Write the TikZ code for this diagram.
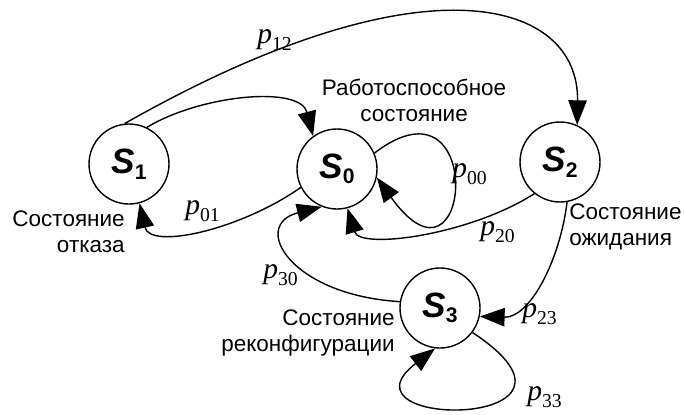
\documentclass[tikz,border=0pt]{standalone}
\usepackage{fontspec}
\setmainfont{Liberation Sans}
\newfontfamily\tnr{Liberation Serif}
\usetikzlibrary{arrows.meta,positioning}

\newcommand{\stname}[1]{{\fontsize{25}{25}\selectfont\bfseries\itshape S}\raisebox{-4pt}{\fontsize{15}{15}\selectfont\bfseries #1}}
\newcommand{\prob}[1]{{\tnr\fontsize{21}{21}\selectfont\itshape p}\raisebox{-5pt}{\tnr\fontsize{14}{14}\selectfont #1}}

\begin{document}
\begin{tikzpicture}[
  statenode/.style={draw, circle, line width=1pt, minimum size=2cm, inner sep=0pt},
  trans/.style={line width=1pt, -{Triangle[length=0.62cm, width=0.46cm]}},
  note/.style={font=\fontsize{16}{18.5}\selectfont, inner sep=0pt},
  plabel/.style={inner sep=0pt, anchor=base west}]

\useasboundingbox (0,0) rectangle (17.1,10.35);

\node[statenode] (s1) at (3.225,6.25) {\stname{1}};
\node[statenode] (s0) at (8.425,6.125) {\stname{0}};
\node[statenode] (s2) at (14.0,6.3) {\stname{2}};
\node[statenode] (s3) at (11.0,2.65) {\stname{3}};

\node[note, align=center] (work) at (10.35,7.85) {Работоспособное\\состояние};
\node[note, align=right, anchor=east] (fail) at (3.125,4.55) {Состояние\\отказа};
\node[note, align=left, anchor=west] (wait) at (14.225,4.675) {Состояние\\ожидания};
\node[note, align=right, anchor=east] (reconf) at (9.875,2.025) {Состояние\\реконфигурации};

% Transitions
\draw[trans] (s1.96) .. controls (10.625,11.525) and (14.475,10.35) .. (s2.65);
\draw[trans] (s1.64) .. controls (5.0,7.975) and (7.5,8.225) .. (s0.126);
\draw[trans] (s0.23) .. controls (12.2,8.7) and (11.8,2.6) .. (s0.348);
\draw[trans] (s0.207) .. controls (6.0,4.6) and (3.75,4.1) .. (s1.285);
\draw[trans] (s2.231) .. controls (11.75,4.475) and (9.0,4.1) .. (s0.285);
\draw[trans] (s3.171) .. controls (7.25,2.975) and (6.25,4.725) .. (s0.248);
\draw[trans] (s2.280) .. controls (14.0,3.85) and (13.25,2.4) .. (s3.348);
\draw[trans] (s3.323) .. controls (15.5,-0.4) and (8.25,-0.4) .. (s3.263);

% Probabilities
\node[plabel] (l12) at (6.425,9.275) {\prob{12}};
\node[plabel] (l00) at (11.3,5.925) {\prob{00}};
\node[plabel] (l01) at (4.625,5.0) {\prob{01}};
\node[plabel] (l20) at (12.0,4.475) {\prob{20}};
\node[plabel] (l30) at (6.575,3.4) {\prob{30}};
\node[plabel] (l23) at (13.05,2.425) {\prob{23}};
\node[plabel] (l33) at (13.175,0.35) {\prob{33}};

\end{tikzpicture}
\end{document}
